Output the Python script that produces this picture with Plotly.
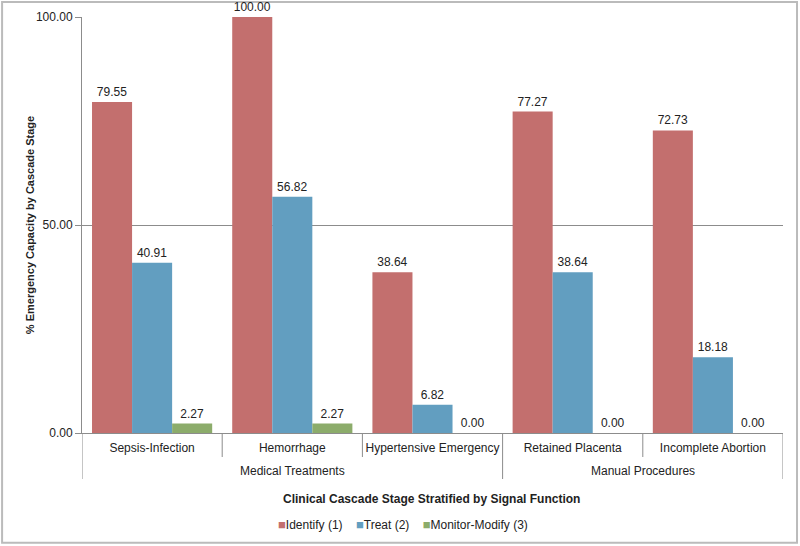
import plotly.graph_objects as go

groups = ["Medical Treatments", "Manual Procedures"]
group_spans = [(0, 2), (3, 4)]
categories = ["Sepsis-Infection", "Hemorrhage", "Hypertensive Emergency",
              "Retained Placenta", "Incomplete Abortion"]
identify = [79.55, 100.00, 38.64, 77.27, 72.73]
treat = [40.91, 56.82, 6.82, 38.64, 18.18]
monitor = [2.27, 2.27, 0.00, 0.00, 0.00]
series_names = ["Identify (1)", "Treat (2)", "Monitor-Modify (3)"]
colors = ["#C36F6E", "#629EC0", "#8CAC6B"]

font = "Liberation Sans, Arial, sans-serif"
axis_col = "#8C8C8C"
fig = go.Figure()
for name, vals, col in zip(series_names, [identify, treat, monitor], colors):
    fig.add_trace(go.Bar(
        x=categories, y=vals, name=name, marker_color=col,
        marker_line_width=0, showlegend=False,
        text=[f"{v:.2f}" for v in vals], textposition="outside",
        textfont=dict(size=12, color="#222"), cliponaxis=False,
    ))

shapes = [dict(type="rect", xref="paper", yref="paper",
               x0=-0.114, x1=1.02, y0=-0.264, y1=1.036,
               line=dict(color="#BBBBBB", width=2), layer="below")]
group_edges = set()
for a, b in group_spans:
    group_edges.add(a - 0.5)
    group_edges.add(b + 0.5)
for i in range(len(categories) + 1):
    pos = i - 0.5
    y0 = -0.1106 if pos in group_edges else -0.0577
    shapes.append(dict(type="line", xref="x", yref="paper", x0=pos, x1=pos,
                       y0=0, y1=y0, line=dict(color=axis_col, width=1)))

annotations = []
for g, (a, b) in zip(groups, group_spans):
    annotations.append(dict(text=g, x=(a + b) / 2, xref="x", y=-0.0913, yref="paper",
                            showarrow=False, yanchor="middle", font=dict(size=12)))
annotations.append(dict(text="<b>Clinical Cascade Stage Stratified by Signal Function</b>",
                        x=0.4986, xref="paper", y=-0.159, yref="paper", showarrow=False,
                        yanchor="middle", font=dict(size=12)))
annotations.append(dict(text="<b>% Emergency Capacity by Cascade Stage</b>",
                        x=-0.074, xref="paper", y=0.5, yref="paper", showarrow=False,
                        textangle=-90, xanchor="center", yanchor="middle",
                        font=dict(size=11)))
legend_text = "&nbsp;&nbsp;&nbsp;&nbsp;".join(
    f'<span style="color:{c};font-size:13px">■</span>{n}'
    for n, c in zip(series_names, colors))
annotations.append(dict(text=legend_text, x=0.458, xref="paper", y=-0.219, yref="paper",
                        showarrow=False, xanchor="center", yanchor="middle",
                        font=dict(size=12)))

fig.update_layout(
    width=800, height=546, barmode="group", bargap=0.143, bargroupgap=0,
    plot_bgcolor="white", paper_bgcolor="white",
    font=dict(family=font, size=12, color="#222"),
    margin=dict(l=82, r=17, t=17, b=113, autoexpand=False),
    showlegend=False,
    yaxis=dict(range=[0, 100], tickvals=[0, 50, 100], tickformat=".2f",
               showgrid=True, gridcolor=axis_col, gridwidth=1, automargin=False,
               showline=True, linecolor=axis_col, ticks="outside", ticklen=6,
               tickcolor=axis_col, zeroline=False, tickfont=dict(size=12)),
    xaxis=dict(type="category", showline=True, linecolor=axis_col, automargin=False,
               tickangle=0, ticks="", tickfont=dict(size=12), ticklabelstandoff=4,
               range=[-0.5, 4.5]),
    shapes=shapes,
    annotations=annotations,
)
fig.write_html("out.html", config={"displayModeBar": False},
               post_script="document.body.style.margin='0';")
